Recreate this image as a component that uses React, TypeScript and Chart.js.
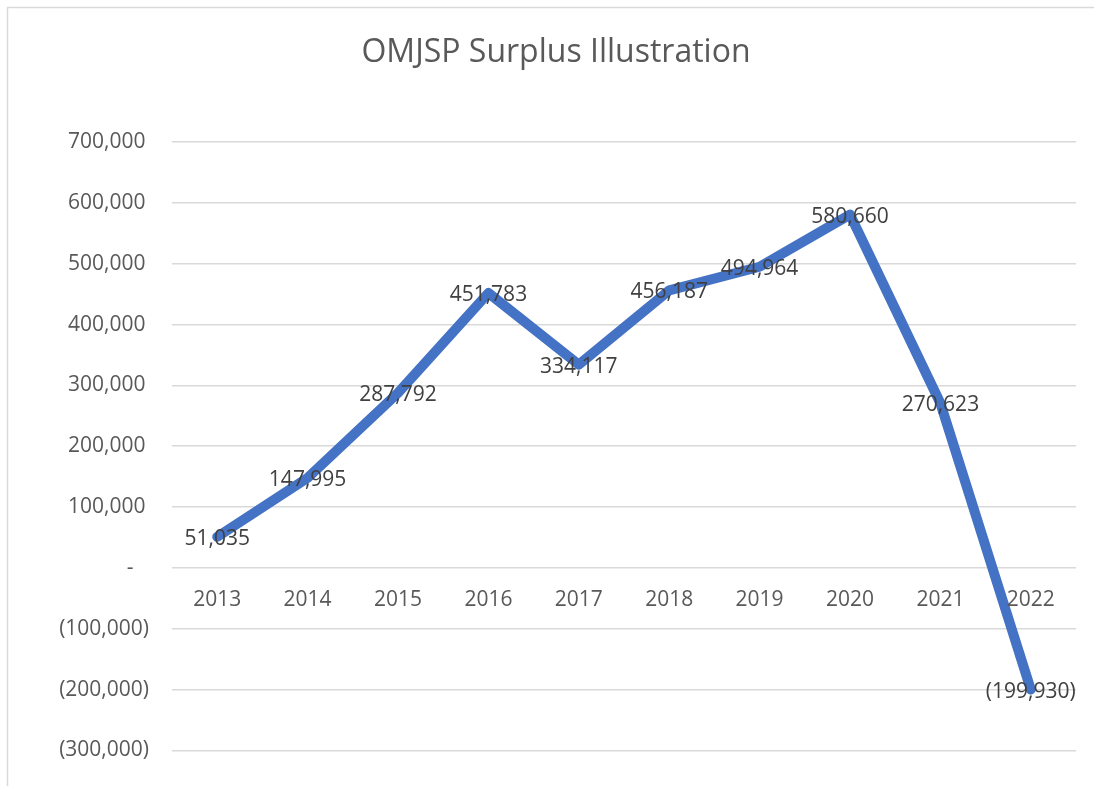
import React, { useEffect, useRef } from "react";
import { Chart, registerables } from "chart.js";

Chart.register(...registerables);

const TITLE = "OMJSP Surplus Illustration";
const years = ["2013", "2014", "2015", "2016", "2017", "2018", "2019", "2020", "2021", "2022"];
const surplus = [51035, 147995, 287792, 451783, 334117, 456187, 494964, 580660, 270623, -199930];
const yMin = -300000;
const yMax = 700000;
const yStep = 100000;

const FONT = "'Open Sans', sans-serif";

function acct(v: number): string {
  if (v === 0) return "-";
  const s = Math.abs(v).toLocaleString("en-US");
  return v < 0 ? "(" + s + ")" : s;
}

export default function App() {
  const ref = useRef<HTMLCanvasElement | null>(null);

  useEffect(() => {
    const canvas = ref.current;
    if (!canvas) return;

    const decor = {
      id: "decor",
      beforeDraw(chart: any) {
        const ctx = chart.ctx;
        ctx.save();
        ctx.fillStyle = "#ffffff";
        ctx.fillRect(0, 0, chart.width, chart.height);
        ctx.strokeStyle = "#d9d9d9";
        ctx.lineWidth = 1.5;
        ctx.beginPath();
        ctx.moveTo(7.5, chart.height + 5);
        ctx.lineTo(7.5, 7.5);
        ctx.lineTo(chart.width + 5, 7.5);
        ctx.stroke();
        ctx.fillStyle = "#595959";
        ctx.font = "32px " + FONT;
        ctx.textAlign = "center";
        ctx.textBaseline = "alphabetic";
        ctx.fillText(TITLE, 556, 62);
        ctx.restore();
      },
      afterDatasetsDraw(chart: any) {
        const ctx = chart.ctx;
        const xs = chart.scales.x;
        const ys = chart.scales.y;
        ctx.save();
        ctx.font = "21px " + FONT;
        ctx.textAlign = "center";
        ctx.textBaseline = "middle";
        ctx.fillStyle = "#595959";
        const y0 = ys.getPixelForValue(0);
        years.forEach((lab, i) => {
          ctx.fillText(lab, xs.getPixelForValue(i), y0 + 32);
        });
        ctx.fillStyle = "#404040";
        const meta = chart.getDatasetMeta(0);
        meta.data.forEach((pt: any, i: number) => {
          ctx.fillText(acct(surplus[i]), pt.x, pt.y + 2);
        });
        ctx.restore();
      },
    };

    const chart = new Chart(canvas, {
      type: "line",
      data: {
        labels: years,
        datasets: [
          {
            data: surplus,
            borderColor: "#4472C4",
            backgroundColor: "#4472C4",
            borderWidth: 10,
            borderCapStyle: "round",
            borderJoinStyle: "round",
            pointRadius: 0,
            pointHoverRadius: 0,
            tension: 0,
            fill: false,
          },
        ],
      },
      options: {
        responsive: false,
        animation: false,
        events: [],
        layout: { padding: { top: 142, bottom: 34, left: 0, right: 18 } },
        plugins: {
          legend: { display: false },
          title: { display: false },
          tooltip: { enabled: false },
        },
        scales: {
          x: {
            display: false,
            offset: true,
          },
          y: {
            min: yMin,
            max: yMax,
            afterFit(scale: any) {
              scale.width = 172;
            },
            border: { display: false },
            grid: {
              color: "#d9d9d9",
              lineWidth: 1.5,
              drawTicks: false,
            },
            ticks: {
              stepSize: yStep,
              padding: 23,
              color: "#595959",
              font: { family: FONT, size: 21 },
              callback: (v: any) => {
                const n = Number(v);
                if (n === 0) return "-\u2007\u2009";
                if (n > 0) return acct(n) + "\u2009";
                return acct(n);
              },
            },
          },
        },
      },
      plugins: [decor],
    } as any);

    return () => chart.destroy();
  }, []);

  return (
    <canvas
      ref={ref}
      width={1094}
      height={786}
      style={{ position: "fixed", left: 0, top: 0, width: 1094, height: 786 }}
    />
  );
}
